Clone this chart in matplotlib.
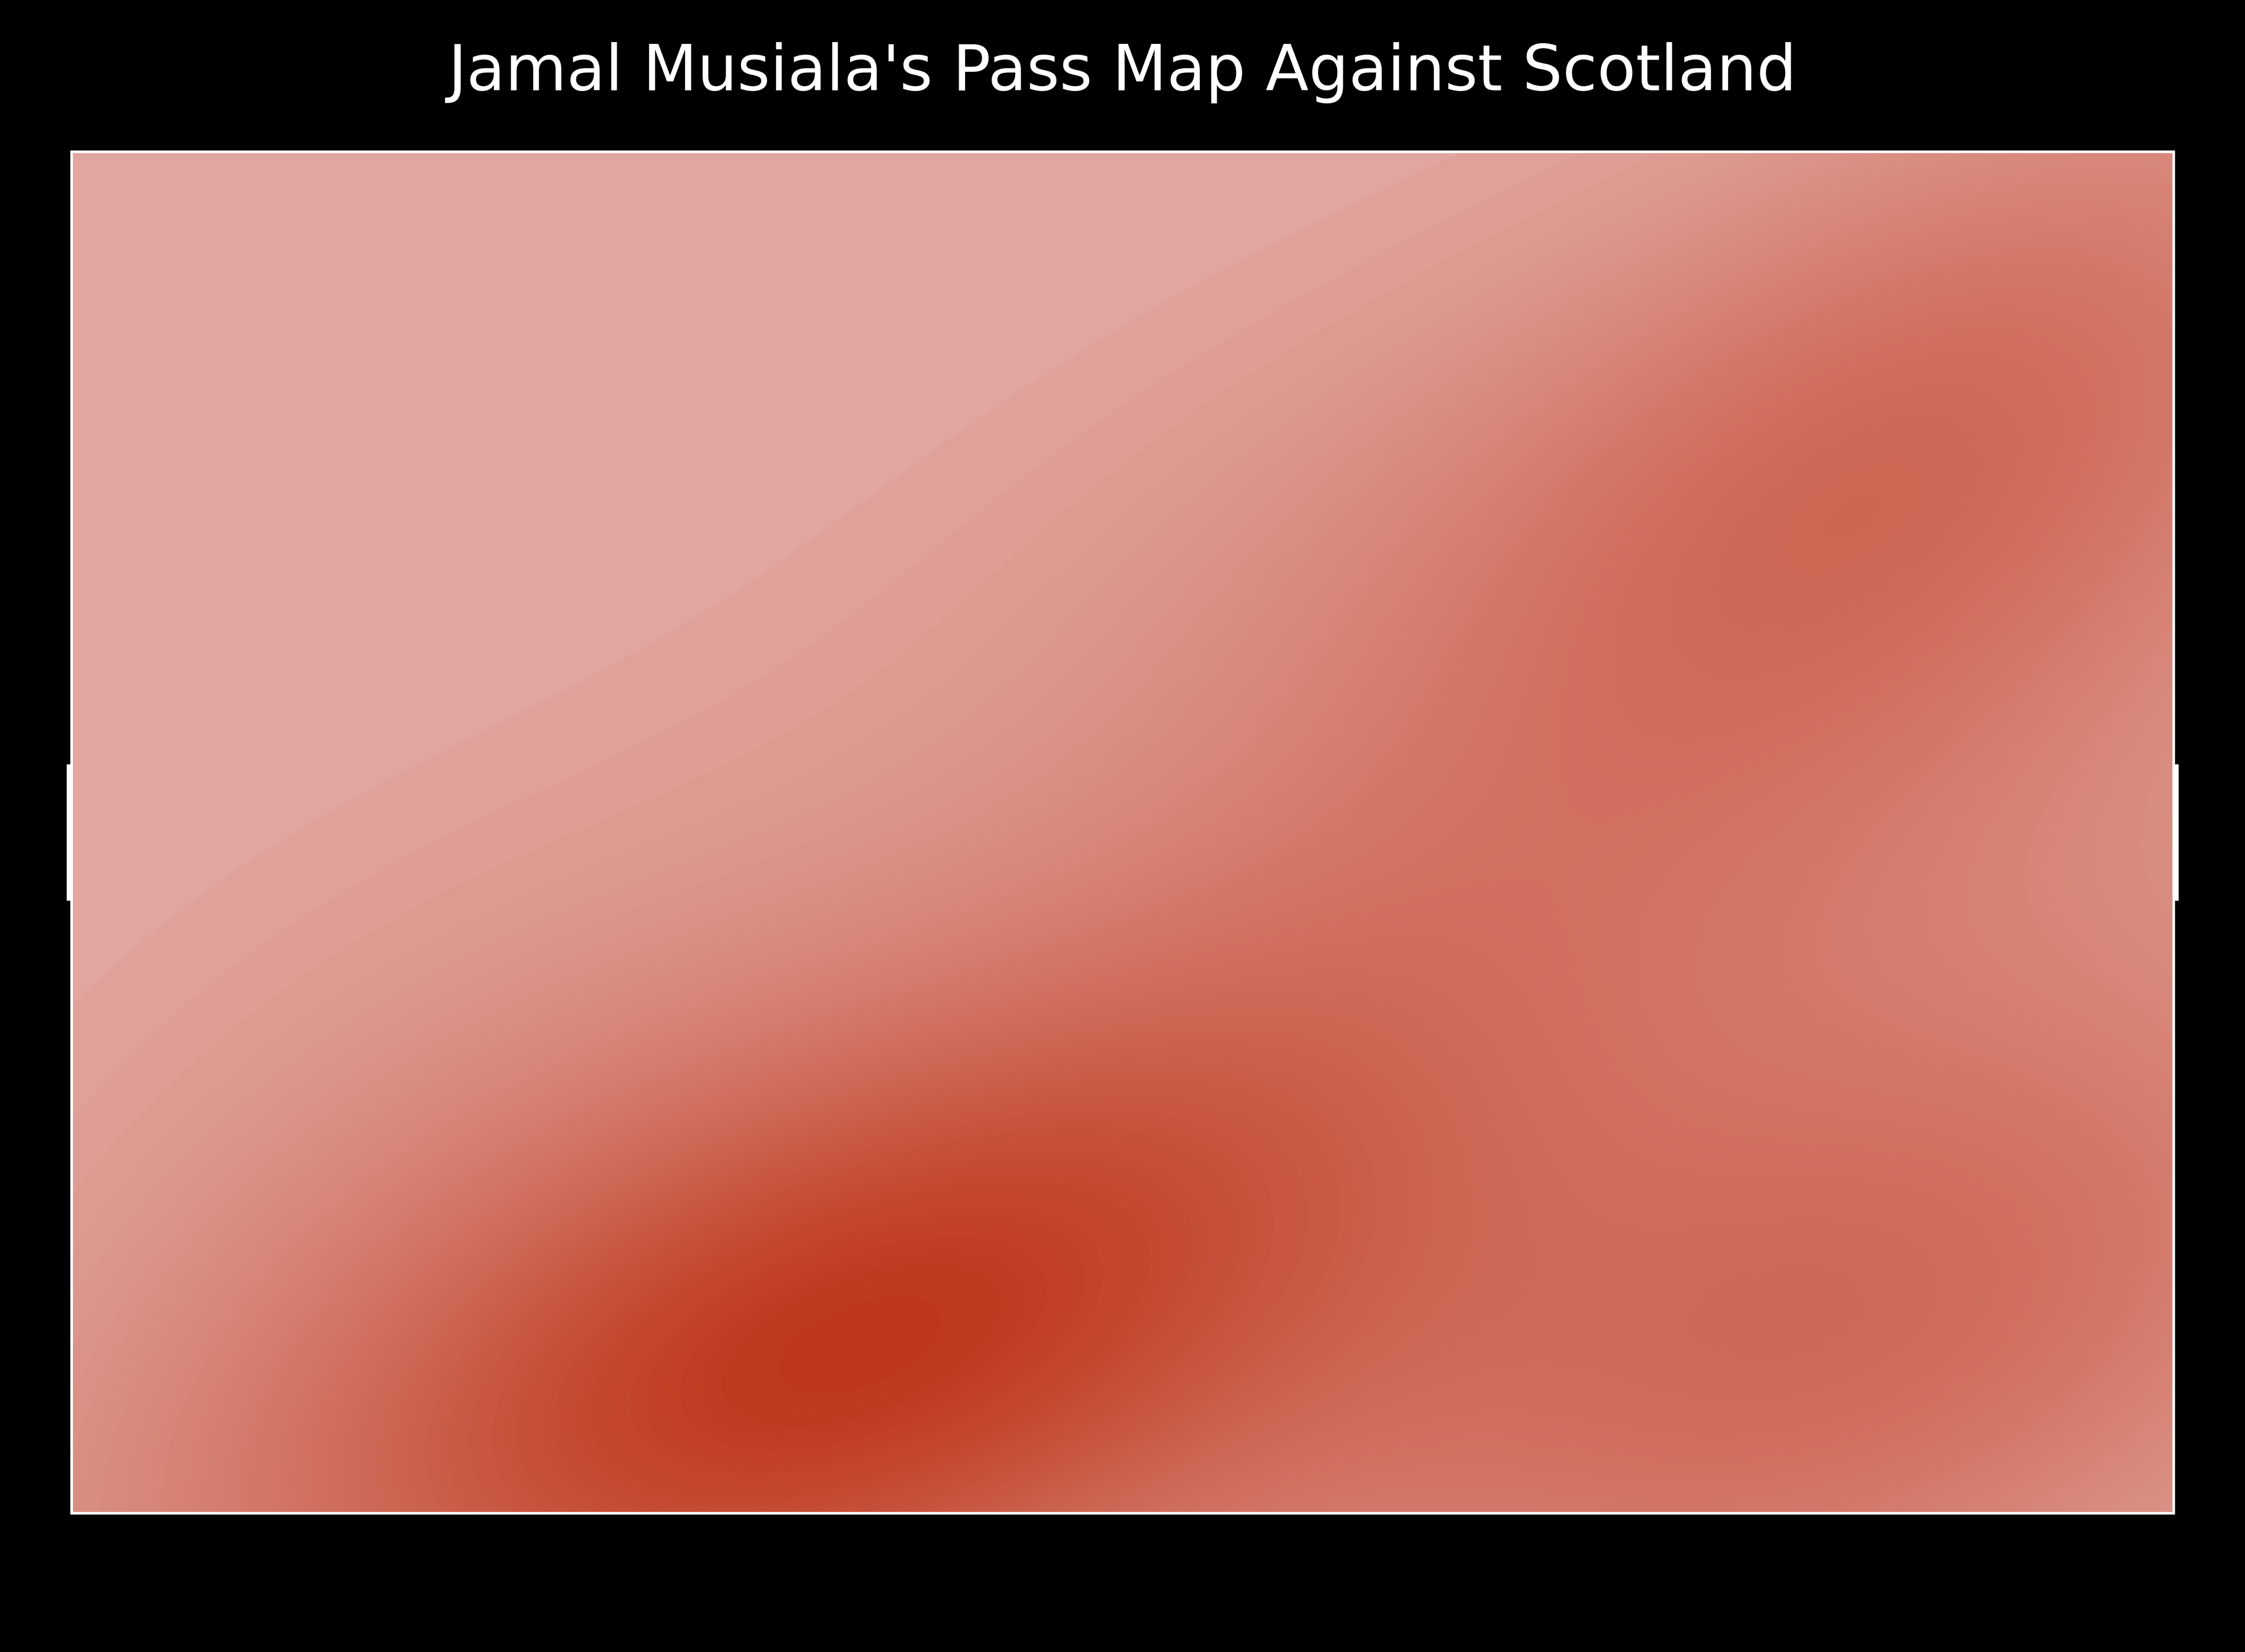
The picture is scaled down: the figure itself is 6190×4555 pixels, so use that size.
import matplotlib
matplotlib.use('Agg')
import matplotlib.pyplot as plt
from matplotlib.colors import LinearSegmentedColormap
from matplotlib.patches import Rectangle
import seaborn as sns

pass_x = [38, 42, 45, 47, 50, 44, 40, 52, 36, 48, 55, 43, 53, 30, 60,
          100, 105, 108, 103, 110, 98, 106, 112, 115,
          68, 78, 88, 62, 72, 60, 70, 85,
          95, 100, 110, 115, 92, 105, 118, 88, 115, 98, 114, 100, 112, 108, 80,
          20, 25, 18, 28, 22, 10, 30]
pass_y = [8, 12, 10, 6, 13, 15, 4, 9, 12, 2, 14, 3, 5, 3, 4,
          60, 64, 58, 67, 62, 56, 70, 68, 75,
          30, 40, 48, 55, 60, 20, 15, 35,
          10, 20, 8, 15, 30, 18, 5, 5, 50, 2, 22, 12, 45, 2, 3,
          15, 5, 32, 25, 2, 6, 10]

pitch_length = 120
pitch_width = 80
goal_low, goal_high = 36, 44
title = "Jamal Musiala's Pass Map Against Scotland"

fig = plt.figure(figsize=(15.475, 11.3875), dpi=400, facecolor='black')
ax = fig.add_axes([0.0319, 0.0841, 0.9362, 0.8241])
ax.set_facecolor('black')

cmap = LinearSegmentedColormap.from_list('pass_red', ['#e2aaa4', '#be371c'])
sns.kdeplot(x=pass_x, y=pass_y, fill=True, levels=100, thresh=0, cmap=cmap,
            bw_adjust=1.2, clip=((0, pitch_length), (0, pitch_width)), ax=ax, zorder=2)

# pitch outline and goals
ax.add_patch(Rectangle((0, 0), pitch_length, pitch_width, fill=False,
                       edgecolor='white', lw=1.3, zorder=4, clip_on=False))
for gx in [0, pitch_length]:
    ax.plot([gx, gx], [goal_low, goal_high], color='white', lw=4.9,
            solid_capstyle='butt', zorder=1, clip_on=False)

ax.set_xlim(0, pitch_length)
ax.set_ylim(0, pitch_width)
ax.axis('off')

fig.text(0.5, 0.956, title, color='white', fontsize=31.3, ha='center', va='center')

fig.savefig('out.png', dpi=400, facecolor='black')
